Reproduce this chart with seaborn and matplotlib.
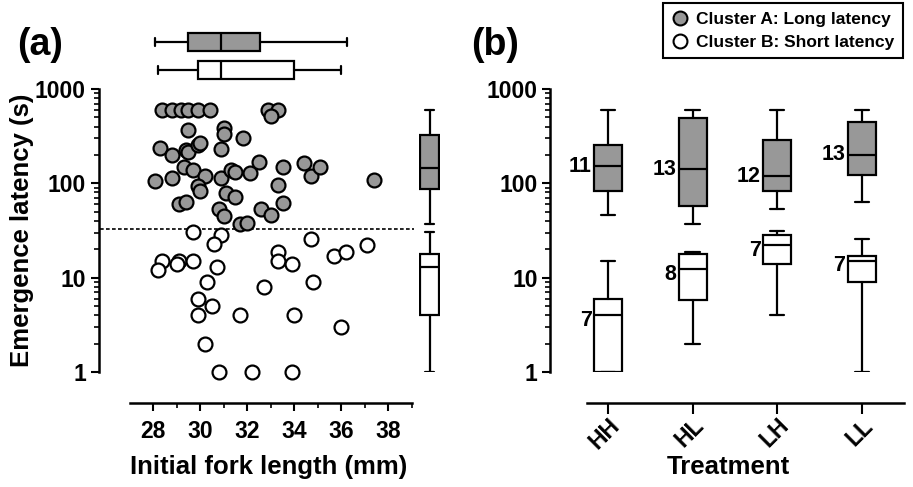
import numpy as np
import pandas as pd
import matplotlib
matplotlib.use("Agg")
import matplotlib.pyplot as plt
import matplotlib.ticker as mticker
from matplotlib.lines import Line2D
import seaborn as sns

# ---------------- data ----------------
# Panel (a): Cluster A (long latency) points
a_len = [28.4, 28.8, 29.2, 29.5, 29.9, 30.4, 32.9, 33.3, 33.0, 29.5, 31.0, 31.0,
         31.8, 28.3, 28.8, 29.4, 29.5, 29.9, 30.0, 30.9, 29.3, 29.7, 30.2, 28.1,
         28.8, 30.9, 31.3, 31.5, 32.1, 32.5, 33.5, 34.4, 34.7, 35.1, 37.4, 29.9,
         30.0, 33.3, 31.1, 31.5, 29.1, 29.4, 33.5, 30.8, 31.0, 32.6, 33.0, 31.7,
         32.0]
a_lat = [600, 600, 600, 600, 600, 600, 600, 600, 512, 370, 389, 336,
         305, 239, 198, 227, 214, 252, 267, 233, 149, 137, 120, 106,
         115, 115, 140, 132, 128, 167, 149, 164, 119, 149, 108, 94,
         82, 95, 79, 72, 60, 63, 62, 53, 45, 54, 46, 37,
         38]
# Panel (a): Cluster B (short latency) points
b_len = [29.7, 30.9, 30.6, 34.7, 28.4, 28.2, 29.1, 29.0, 29.7, 30.7, 33.3, 33.3,
         33.9, 35.7, 36.2, 37.1, 30.3, 32.7, 34.8, 29.9, 30.5, 29.9, 31.7, 34.0,
         36.0, 30.2, 30.8, 32.2, 33.9]
b_lat = [30.5, 28, 23, 26, 15, 12, 15, 13.9, 14.9, 13, 18.7, 15,
         14.1, 16.9, 18.7, 22, 9, 8, 9, 6, 5, 4, 4, 4,
         3, 2, 1, 1, 1]
threshold = 33

# Marginal box summaries: whisker low, Q1, median, Q3, whisker high
len_box_A = [28.1, 29.5, 30.9, 32.55, 36.25]
len_box_B = [28.2, 29.9, 30.9, 33.97, 36.0]
lat_box_A = [36.8, 88, 147, 322, 600]
lat_box_B = [1, 4, 13, 18, 30.5]

# Panel (b): treatment box summaries
treatments = ["HH", "HL", "LH", "LL"]
tr_box_A = [[45.7, 83, 151, 252, 600],
            [36.8, 57.5, 141, 490, 600],
            [53, 83, 119, 285, 600],
            [64, 121.5, 201, 445, 600]]
tr_box_B = [[1, 1, 4, 6, 15],
            [2, 5.8, 12.4, 17.9, 18.7],
            [4, 14.1, 22, 28, 31],
            [1, 9, 15.2, 17, 25.7]]
n_A = [11, 13, 12, 13]
n_B = [7, 8, 7, 7]

legend_labels = ["Cluster A: Long latency", "Cluster B: Short latency"]

# ---------------- style ----------------
sns.set_style("ticks")
plt.rcParams["font.family"] = ["Liberation Sans", "DejaVu Sans"]
plt.rcParams["font.weight"] = "bold"
plt.rcParams["axes.labelweight"] = "bold"
for k in ["axes.edgecolor", "text.color", "axes.labelcolor", "xtick.color", "ytick.color"]:
    plt.rcParams[k] = "black"

GRAY = "#989898"
LW = 1.6
W, H = 913, 487
PX = 72 / 100.0  # pixels -> points

fig = plt.figure(figsize=(W / 100, H / 100), dpi=100)

def rect(x0, y0, x1, y1):
    return [x0 / W, 1 - y1 / H, (x1 - x0) / W, (y1 - y0) / H]

def bstats(v):
    return dict(whislo=v[0], q1=v[1], med=v[2], q3=v[3], whishi=v[4], fliers=[])

def draw_boxes(ax, stats, positions, color, width, capw, orientation="vertical"):
    ax.bxp([bstats(s) for s in stats], positions=positions, widths=width,
           capwidths=capw, orientation=orientation, patch_artist=True,
           showfliers=False, manage_ticks=False,
           boxprops=dict(facecolor=color, edgecolor="black", linewidth=LW),
           medianprops=dict(color="black", linewidth=LW),
           whiskerprops=dict(color="black", linewidth=LW),
           capprops=dict(color="black", linewidth=LW))

def style_axis(ax, left_off_px, bottom_off_px):
    for s in ["top", "right"]:
        ax.spines[s].set_visible(False)
    ax.spines["left"].set_position(("outward", left_off_px * PX))
    ax.spines["bottom"].set_position(("outward", bottom_off_px * PX))
    for s in ["left", "bottom"]:
        ax.spines[s].set_linewidth(1.8)
    ax.tick_params(which="major", length=6, width=1.5, labelsize=16.5)
    ax.tick_params(which="minor", length=3.5, width=1.2)
    ax.set_yscale("log")
    ax.set_ylim(1, 1000)
    ax.yaxis.set_major_locator(mticker.FixedLocator([1, 10, 100, 1000]))
    ax.yaxis.set_major_formatter(mticker.FuncFormatter(lambda v, p: f"{v:g}"))
    ax.yaxis.set_minor_locator(mticker.LogLocator(base=10, subs=np.arange(2, 10)))
    ax.yaxis.set_minor_formatter(mticker.NullFormatter())
    ax.tick_params(axis="y", pad=3)

# ---------------- panel (a) ----------------
ax_a = fig.add_axes(rect(129.5, 89, 412, 372))
df_a = pd.DataFrame({"len": a_len, "lat": a_lat})
df_b = pd.DataFrame({"len": b_len, "lat": b_lat})
ax_a.axhline(threshold, xmin=(100 - 129.5) / 282.5, xmax=(414 - 129.5) / 282.5,
             color="black", lw=1.2, ls=(0, (2.2, 1.4)), clip_on=False, zorder=1)
sns.scatterplot(data=df_b, x="len", y="lat", ax=ax_a, color="white", edgecolor="black",
                linewidth=1.6, s=100, clip_on=False, zorder=3, legend=False)
sns.scatterplot(data=df_a, x="len", y="lat", ax=ax_a, color=GRAY, edgecolor="black",
                linewidth=1.6, s=100, clip_on=False, zorder=4, legend=False)
style_axis(ax_a, 31, 31)
ax_a.set_xlim(27, 39)
ax_a.xaxis.set_major_locator(mticker.FixedLocator(np.arange(28, 39, 2)))
ax_a.xaxis.set_minor_locator(mticker.FixedLocator(np.arange(29, 40, 2)))
ax_a.xaxis.set_major_formatter(mticker.FuncFormatter(lambda v, p: f"{v:g}"))
ax_a.tick_params(axis="x", pad=6)
ax_a.set_xlabel("Initial fork length (mm)", fontsize=18.5, fontweight="bold")
ax_a.set_ylabel("Emergence latency (s)", fontsize=18.5, fontweight="bold")
ax_a.xaxis.label.set_va("center")
ax_a.xaxis.set_label_coords((269 - 129.5) / 282.5, (372 - 467) / 283)
ax_a.yaxis.label.set_va("center")
ax_a.yaxis.set_label_coords((22 - 129.5) / 282.5, (372 - 230) / 283)

# top marginal (fork length)
ax_top = fig.add_axes(rect(129.5, 28, 412, 84))
draw_boxes(ax_top, [len_box_B], [0], "white", 0.66, 0.29, "horizontal")
draw_boxes(ax_top, [len_box_A], [1], GRAY, 0.66, 0.29, "horizontal")
ax_top.set_xlim(27, 39)
ax_top.set_ylim(-0.5, 1.5)
ax_top.axis("off")

# right marginal (latency)
ax_r = fig.add_axes(rect(419, 89, 440, 372))
draw_boxes(ax_r, [lat_box_A], [0], GRAY, 0.89, 0.43)
draw_boxes(ax_r, [lat_box_B], [0], "white", 0.89, 0.43)
ax_r.set_yscale("log")
ax_r.set_ylim(1, 1000)
ax_r.set_xlim(-0.5, 0.5)
ax_r.axis("off")

# ---------------- panel (b) ----------------
ax_b = fig.add_axes(rect(587, 89, 904, 372))
pos = np.arange(len(treatments))
BW = 0.33
draw_boxes(ax_b, tr_box_A, pos, GRAY, BW, 0.17)
draw_boxes(ax_b, tr_box_B, pos, "white", BW, 0.17)
style_axis(ax_b, 37, 31)
ax_b.set_xlim(-0.25, 3.5)
ax_b.set_xticks(pos)
ax_b.set_xticklabels(treatments, rotation=45, ha="right", rotation_mode="anchor",
                     fontsize=16.5, fontweight="bold")
ax_b.tick_params(axis="x", length=8, pad=0)
ax_b.set_xlabel("Treatment", fontsize=18.5, fontweight="bold")
ax_b.xaxis.label.set_va("center")
ax_b.xaxis.set_label_coords((728 - 587) / 317, (372 - 467) / 283)

for i in range(len(treatments)):
    ax_b.text(pos[i] - BW / 2 - 0.03, tr_box_A[i][2], str(n_A[i]), ha="right",
              va="center", fontsize=15.5, fontweight="bold")
    ax_b.text(pos[i] - BW / 2 - 0.03, tr_box_B[i][2] * 0.88, str(n_B[i]), ha="right",
              va="center", fontsize=15.5, fontweight="bold")

# ---------------- legend & panel letters ----------------
handles = [Line2D([], [], ls="", marker="o", markersize=10, markerfacecolor=GRAY,
                  markeredgecolor="black", markeredgewidth=1.5),
           Line2D([], [], ls="", marker="o", markersize=10, markerfacecolor="white",
                  markeredgecolor="black", markeredgewidth=1.5)]
leg = fig.legend(handles, legend_labels, loc="upper right",
                 bbox_to_anchor=(903 / W, 1 - 3 / H), borderaxespad=0,
                 frameon=True, fancybox=False, framealpha=1, edgecolor="black",
                 prop=dict(size=12.5, weight="bold"), labelspacing=0.45,
                 handletextpad=0.4, handlelength=1.0, borderpad=0.5)
leg.get_frame().set_linewidth(1.5)

fig.text(40 / W, 1 - 45 / H, "(a)", fontsize=27, fontweight="bold", ha="center", va="center")
fig.text(495 / W, 1 - 45 / H, "(b)", fontsize=27, fontweight="bold", ha="center", va="center")

fig.savefig("out.png", dpi=100)
